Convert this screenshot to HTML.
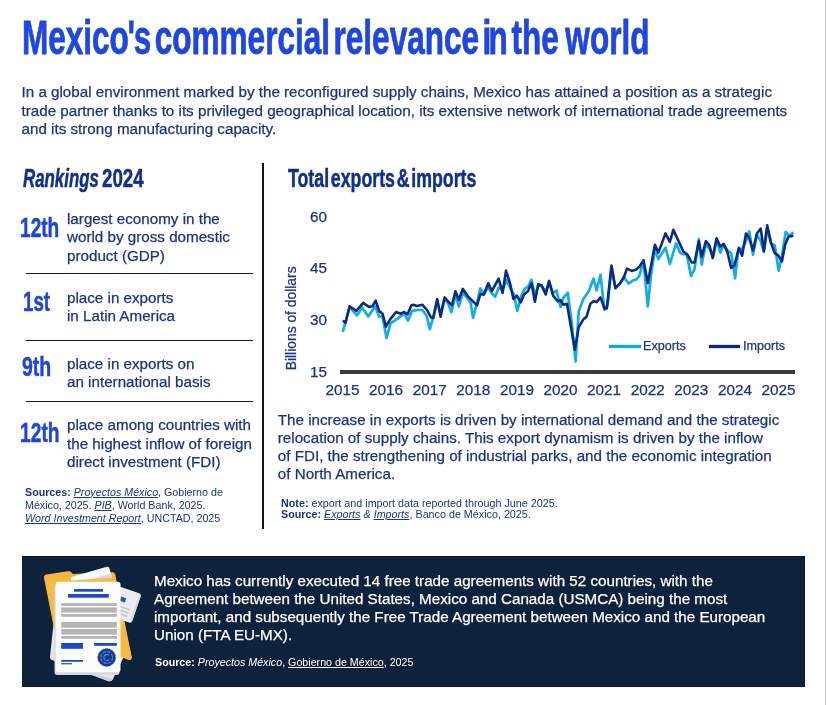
<!DOCTYPE html>
<html><head><meta charset="utf-8"><title>Mexico's commercial relevance in the world</title>
<style>
*{margin:0;padding:0;box-sizing:border-box}
html,body{width:826px;height:705px;overflow:hidden;background:#fff}
body{position:relative;font-family:"Liberation Sans",Arial,sans-serif;color:#1a3482}
.a{position:absolute;white-space:nowrap}
.cond{font-weight:bold;transform-origin:0 0;line-height:1}
.t15{font-size:15.2px;line-height:18.4px;-webkit-text-stroke:0.25px currentColor}
.num{color:#1f45d6;font-size:27.5px;-webkit-text-stroke:0.5px #1f45d6}
.hd{color:#11308c;-webkit-text-stroke:0.5px #11308c}
.sep{position:absolute;left:26px;width:227px;height:1.3px;background:#181c28}
.small{font-size:10.7px;line-height:13px}
u{text-decoration-thickness:1px;text-underline-offset:1px}
#edge{position:absolute;left:825px;top:0;width:1px;height:705px;background:#c9c9c9}
</style></head><body>
<div id="edge"></div>
<div class="a cond" style="left:21.6px;top:12.9px;font-size:48.5px;color:#1f46df;transform:scaleX(0.65);word-spacing:-8px;-webkit-text-stroke:0.8px #1f46df">Mexico<span style="margin:0 -2.1px">'</span>s commercial relevance <span style="letter-spacing:-4.2px">i</span>n the <span style="margin-left:4.75px">world</span></div>
<div class="a t15" style="left:21.5px;top:83.1px">In a global environment marked by the reconfigured supply chains, Mexico has attained a position as a strategic<br>trade partner thanks to its privileged geographical location, its extensive network of international trade agreements<br>and its strong manufacturing capacity.</div>

<div class="a cond hd" style="left:23px;top:164.7px;font-size:26px;transform:scaleX(0.648)"><i>Rankings</i></div>
<div class="a cond hd" style="left:102px;top:164.7px;font-size:26px;transform:scaleX(0.72)">2024</div>

<div class="a cond num" style="left:20.1px;top:214.4px;transform:scaleX(0.695)">12th</div>
<div class="a t15" style="left:67px;top:209.9px">largest economy in the<br>world by gross domestic<br>product (GDP)</div>
<div class="sep" style="top:273px"></div>
<div class="a cond num" style="left:22.5px;top:288.4px;transform:scaleX(0.68)">1st</div>
<div class="a t15" style="left:67px;top:288.6px">place in exports<br>in Latin America</div>
<div class="sep" style="top:340px"></div>
<div class="a cond num" style="left:22.2px;top:353.3px;transform:scaleX(0.71)">9th</div>
<div class="a t15" style="left:67px;top:354.6px">place in exports on<br>an international basis</div>
<div class="sep" style="top:401px"></div>
<div class="a cond num" style="left:20.1px;top:418.5px;transform:scaleX(0.7)">12th</div>
<div class="a t15" style="left:67px;top:416.2px">place among countries with<br>the highest inflow of foreign<br>direct investment (FDI)</div>

<div class="a small" style="left:25px;top:485.5px"><b>Sources:</b> <i><u>Proyectos México</u></i>, Gobierno de<br>México, 2025. <i><u>PIB</u></i>, World Bank, 2025.<br><i><u>Word Investment Report</u></i>, UNCTAD, 2025</div>

<div class="a" style="left:262px;top:163px;width:2px;height:366px;background:#0b132b"></div>

<div class="a cond hd" style="left:288px;top:165.5px;font-size:25px;transform:scaleX(0.71);word-spacing:-4.5px">Total exports &amp; imports</div>

<svg class="a" style="left:0;top:0" width="826" height="705" viewBox="0 0 826 705">
 <g font-family="Liberation Sans, Arial, sans-serif" fill="#1a3482" stroke="#1a3482" stroke-width="0.25" font-size="15.3">
  <text x="327" y="221.8" text-anchor="end">60</text>
  <text x="327" y="272.8" text-anchor="end">45</text>
  <text x="327" y="324.8" text-anchor="end">30</text>
  <text x="327" y="376.6" text-anchor="end">15</text>
  <g text-anchor="middle">
   <text x="342.5" y="395">2015</text><text x="386.1" y="395">2016</text><text x="429.7" y="395">2017</text><text x="473.3" y="395">2018</text><text x="516.9" y="395">2019</text><text x="560.5" y="395">2020</text><text x="604.1" y="395">2021</text><text x="647.7" y="395">2022</text><text x="691.3" y="395">2023</text><text x="734.9" y="395">2024</text><text x="778.5" y="395">2025</text>
  </g>
  <text transform="translate(295.6,370.3) rotate(-90)" font-size="13.85">Billions of dollars</text>
  <text x="643" y="350" font-size="12.6">Exports</text>
  <text x="743" y="350" font-size="12.6">Imports</text>
 </g>
 <rect x="340" y="370" width="455" height="4" fill="#3a3a3a"/>
 <line x1="609" y1="346.5" x2="641" y2="346.5" stroke="#10a9dd" stroke-width="3.3"/>
 <line x1="709" y1="346.5" x2="740" y2="346.5" stroke="#082a7c" stroke-width="3.3"/>
 <polyline fill="none" stroke="#12ade2" stroke-width="2.7" stroke-linejoin="round" points="342.8,331.8 349.6,306.9 357.0,315.4 362.1,307.4 368.3,316.5 375.1,306.3 379.1,316.5 382.5,316.5 386.5,338.1 390.5,323.3 397.3,318.8 404.1,313.7 408.0,320.5 412.0,310.9 418.0,310.0 422.5,310.0 426.5,315.6 429.9,329.2 433.3,316.7 437.2,300.9 440.6,314.5 444.6,298.6 448.0,303.1 451.4,312.2 455.4,294.6 458.8,306.5 462.8,292.9 467.9,298.6 470.7,303.1 473.0,317.9 475.8,307.7 480.4,288.4 483.8,294.0 488.3,287.2 491.8,293.3 495.2,296.7 498.6,287.7 502.6,289.9 506.6,279.7 510.5,288.8 513.9,294.5 517.3,310.9 521.3,295.6 524.7,288.8 528.1,286.5 531.5,279.7 534.9,295.6 538.3,284.8 541.7,286.5 545.7,291.1 549.1,283.1 553.1,293.3 556.5,290.5 560.5,307.0 563.1,298.2 567.8,292.8 571.7,322.4 575.6,361.4 578.7,311.5 583.4,299.0 588.8,291.2 593.5,278.7 596.6,290.4 600.5,274.8 604.4,309.9 607.6,305.2 611.5,267.8 615.4,288.1 620.0,283.4 623.9,277.2 628.6,283.4 633.3,280.3 636.4,279.5 639.3,276.0 643.5,260.4 647.8,306.5 650.6,278.8 654.9,249.0 658.4,259.0 665.5,247.6 669.8,264.0 676.1,243.4 680.4,253.3 686.8,254.7 691.0,276.0 694.6,268.9 698.8,239.1 701.7,264.6 705.9,243.4 709.5,249.0 713.3,256.4 716.5,240.1 720.4,252.6 723.6,244.4 728.0,251.0 731.2,253.2 735.1,278.3 738.3,249.9 742.1,248.8 746.0,241.2 749.2,231.4 753.0,254.8 756.9,234.6 760.7,241.2 763.9,252.1 767.2,228.1 771.0,243.4 774.8,245.5 778.6,270.6 781.9,256.4 785.7,231.9 789.5,235.7 793.4,232.4"/>
 <polyline fill="none" stroke="#092c82" stroke-width="2.6" stroke-linejoin="round" points="342.8,320.5 345.6,322.8 349.6,306.3 356.4,310.9 363.2,302.9 368.9,306.9 372.3,306.3 375.7,300.6 379.1,310.9 382.5,313.7 385.9,326.7 390.5,318.8 396.1,312.0 400.7,313.7 404.1,312.0 407.5,314.3 411.5,305.2 413.4,304.8 416.8,306.0 422.5,304.8 427.0,310.0 431.0,317.3 433.3,317.9 437.2,299.1 440.6,316.7 444.6,297.4 448.6,302.0 452.0,305.4 455.4,291.2 458.8,299.7 462.8,288.9 467.9,296.3 472.4,300.9 477.0,305.4 480.4,294.0 483.8,294.6 488.3,283.3 491.8,291.1 498.6,278.6 502.6,292.8 506.0,270.6 510.0,283.1 513.4,299.0 516.8,295.6 520.7,302.4 524.1,294.5 528.1,291.1 531.5,283.1 534.9,301.8 538.3,284.3 541.7,285.4 545.7,294.5 549.1,280.9 553.1,295.6 557.6,301.3 560.5,300.1 563.1,304.5 567.0,303.7 574.8,349.7 578.7,327.1 583.4,319.3 586.5,316.9 590.4,303.7 593.5,301.3 596.6,302.1 600.5,297.4 604.4,308.4 606.8,308.4 611.5,265.5 615.4,288.1 620.0,283.4 623.9,277.2 627.0,268.6 631.7,270.9 636.4,269.4 639.3,266.8 643.5,260.4 647.8,283.1 654.9,244.8 658.4,252.6 665.5,233.4 669.8,242.0 673.3,229.9 677.6,239.1 683.2,251.2 687.5,254.7 691.7,262.5 694.6,262.5 698.8,241.2 701.7,256.8 705.9,241.2 709.5,245.5 712.7,258.1 716.5,238.4 720.4,246.6 723.6,243.9 727.4,252.1 731.2,267.9 734.5,265.2 738.9,247.7 742.1,255.9 746.0,233.5 749.2,237.9 753.0,250.4 756.9,233.5 760.7,228.6 763.9,251.0 767.2,225.4 771.0,242.8 774.8,253.2 778.1,255.3 781.9,261.4 785.2,244.4 788.4,236.8 793.4,235.7"/>
</svg>

<div class="a t15" style="left:277.8px;top:411.0px;line-height:18.1px">The increase in exports is driven by international demand and the strategic<br>relocation of supply chains. This export dynamism is driven by the inflow<br>of FDI, the strengthening of industrial parks, and the economic integration<br>of North America.</div>
<div class="a small" style="left:281px;top:497.5px;font-size:10.75px;line-height:11.6px"><b>Note:</b> export and import data reported through June 2025.<br><b>Source:</b> <i><u>Exports</u> &amp; <u>Imports</u></i>, Banco de México, 2025.</div>

<div class="a" style="left:22px;top:556px;width:783px;height:131px;background:#0f223d;border:1px solid #0a1930"></div>
<div class="a t15" style="left:154px;top:572.2px;color:#fff;line-height:18.1px">Mexico has currently executed 14 free trade agreements with 52 countries, with the<br>Agreement between the United States, Mexico and Canada (USMCA) being the most<br>important, and subsequently the Free Trade Agreement between Mexico and the European<br>Union (FTA EU-MX).</div>
<div class="a small" style="left:155px;top:655.5px;color:#fff"><b>Source:</b> <i>Proyectos México</i>, <u>Gobierno de México</u>, 2025</div>

<svg class="a" style="left:0;top:0" width="826" height="705" viewBox="0 0 826 705">

 <g>
  <!-- back paper B behind folder -->
  <path d="M53.5,624 L124,648 Q127,649 126,652 L113,679 Q111.5,682 108,681 L52,660 Q49.5,659 50,656.5 Z" fill="#e2e5eb"/>
  <path d="M72,668 L113,679 Q111.5,682 108,681 L70,667 Z" fill="#cdd2da"/>
  <!-- folder with tab -->
  <path d="M44,578 Q43.5,575 46.5,574.5 L68,571.3 Q70.5,571 71.5,572.5 L73,574 L112.5,572.2 Q114.8,572.2 115.3,574.5 L131.5,656.5 Q132,660 129,660 L57,631 Q54.5,630 54,628 Z" fill="#f4b63e"/>
  <!-- inner white paper -->
  <g transform="translate(108.8,566.3) rotate(-16)">
   <rect x="-40" y="0" width="40" height="30" rx="2" fill="#f7f8fa"/>
   <rect x="-40" y="7.5" width="40" height="6" fill="#d5d9e0"/>
  </g>
  <!-- folder front panel -->
  <path d="M46.3,580.5 L72,580.5 L114.2,577.5 L131.5,656.5 Q132,660 129,660 L57,631 Q54.5,630 54,628 Z" fill="#f6bb44"/>
  <!-- paper A in front of folder -->
  <g transform="translate(141.5,594) rotate(19)">
   <rect x="-38" y="0" width="38" height="31" rx="2.5" fill="#eaecf0"/>
   <rect x="-2" y="2" width="2" height="27" fill="#d3d7de"/>
   <rect x="-18.5" y="9" width="5.5" height="4.5" fill="#2a4fc9"/>
   <rect x="-34" y="18" width="28" height="1.6" fill="#c4c7cd"/>
   <rect x="-34" y="21.5" width="28" height="1.6" fill="#c4c7cd"/>
   <rect x="-34" y="25" width="28" height="1.6" fill="#c4c7cd"/>
  </g>
  <!-- front doc shadow -->
  <rect x="54.5" y="585" width="65" height="90" rx="3" fill="#d5dae2"/>
  <!-- front doc -->
  <rect x="55.7" y="581.7" width="64.8" height="90.5" rx="3" fill="#fcfcfd"/>
  <rect x="74" y="589" width="29" height="2.7" fill="#1f48d2"/>
  <rect x="68" y="594" width="40.8" height="3.7" fill="#1f48d2"/>
  <g fill="#b4b4b4">
   <rect x="61.2" y="603.2" width="55.7" height="2.8"/>
   <rect x="61.2" y="607.4" width="55.7" height="5.2"/>
   <rect x="61.2" y="614" width="55.7" height="2.8"/>
   <rect x="61.2" y="622" width="55.7" height="5.7"/>
   <rect x="61.2" y="629" width="55.7" height="5.6"/>
   <rect x="61.2" y="636" width="55.7" height="2.8"/>
  </g>
  <rect x="61.2" y="643" width="21.8" height="5.8" fill="#1f48d2"/>
  <rect x="94.2" y="643" width="22.7" height="2.8" fill="#1f48d2"/>
  <rect x="61.2" y="660" width="21.8" height="1.8" fill="#1f48d2"/>
  <rect x="61.2" y="663.2" width="10.8" height="1.1" fill="#2b3563"/>
  <!-- seal -->
  <circle cx="106.7" cy="657.5" r="8.9" fill="#163a8e" stroke="#23459c" stroke-width="0.9" stroke-dasharray="1 0.9"/>
  <circle cx="106.7" cy="657.5" r="5.9" fill="none" stroke="#5a80de" stroke-width="1.2" stroke-dasharray="3.2 1.4"/>
  <path d="M108.9,655.4 A3,3 0 1 0 109.2,659.4" fill="none" stroke="#5a80de" stroke-width="1.2"/>
 </g>
</svg>
</body></html>
